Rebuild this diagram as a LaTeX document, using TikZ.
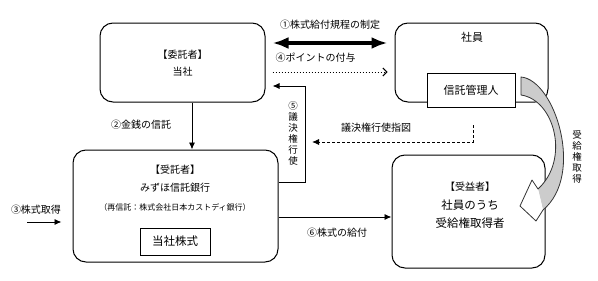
\documentclass[tikz,border=0pt]{standalone}
\usepackage{fontspec}
\setmainfont{Noto Sans CJK JP}
\usetikzlibrary{arrows.meta}

\begin{document}
\begin{tikzpicture}[x=1pt,y=-1pt,font=\fontsize{10}{12}\selectfont,
  box/.style={draw,rounded corners=13pt,line width=1pt},
  arr/.style={-{Latex[length=7pt,width=6pt]},line width=0.9pt},
  vtext/.style={align=center,font=\fontsize{9.5}{11}\selectfont}]
\useasboundingbox (0,0) rectangle (598,281);

\node[box,minimum width=165,minimum height=79] (itaku) at (182.5,62.5) {};
\node[box,minimum width=153,minimum height=79] (shain) at (471.5,62.5) {};
\node[draw,fill=white,line width=1pt,minimum width=88,minimum height=34,font=\fontsize{11}{13}\selectfont] (kanri) at (471,90) {信託管理人};
\node[box,minimum width=205,minimum height=112] (jutaku) at (175.5,206) {};
\node[draw,line width=0.9pt,minimum width=70,minimum height=27,font=\fontsize{11.5}{13}\selectfont] (kabu) at (175,241.5) {当社株式};
\node[box,minimum width=153,minimum height=113] (jueki) at (468.5,211.5) {};

\node[align=center,font=\fontsize{10}{17}\selectfont] (itakut) at (182.5,63) {【委託者】\\当社};
\node[font=\fontsize{11}{13}\selectfont] (shaint) at (472,37) {社員};
\node[align=center,font=\fontsize{10}{18}\selectfont] (jutakut) at (175,179) {【受託者】\\みずほ信託銀行};
\node[font=\fontsize{8}{10}\selectfont] (saishin) at (175,207) {（再信託：株式会社日本カストディ銀行）};
\node[font=\fontsize{10}{12}\selectfont] (juekit) at (470,187) {【受益者】};
\node[align=center,font=\fontsize{11.5}{18}\selectfont] (juekin) at (470,214) {社員のうち\\受給権取得者};

\coordinate (vote) at (305,86);
\coordinate (buy) at (27,222);
\coordinate (sashizu) at (473,125);
\coordinate (sashizuend) at (312,142);

\draw[line width=4pt,{Latex[length=16pt,width=12pt]}-{Latex[length=16pt,width=12pt]}] ([shift={(7,-19.5)}]itaku.east) -- ([shift={(-7,-19.5)}]shain.west);
\draw[dotted,line width=1pt,-{Straight Barb[length=4pt,width=8pt]}] ([shift={(7,9.5)}]itaku.east) -- ([shift={(-7,9.5)}]shain.west);
\draw[arr] ([shift={(0,-24)}]jutaku.east) -| (vote) -- ([shift={(7,23.5)}]itaku.east);
\draw[arr] ([xshift=9.5]itaku.south) -- ([xshift=9.5]itaku.south |- jutaku.north);
\draw[arr] (buy) -- ([shift={(-11,16)}]jutaku.west);
\draw[arr] ([shift={(0,11)}]jutaku.east) -- ([shift={(0,11)}]jutaku.east -| jueki.west);
\draw[arr,dash pattern=on 3pt off 2pt] (sashizu) |- (sashizuend);

\fill[gray!40] (521,77) .. controls (555,80) and (585,175) .. (543,210) -- (538,189) .. controls (570,160) and (555,100) .. (521,95) -- cycle;
\fill[white] (543,210) -- (536,221) -- (520,206) -- (532,180) -- (538,189) -- cycle;
\draw[black!80,line width=0.8pt,line join=round] (521,77) .. controls (555,80) and (585,175) .. (543,210) -- (536,221) -- (520,206) -- (532,180) -- (538,189) .. controls (570,160) and (555,100) .. (521,95) -- cycle;

\node (lab1) at (330,25) {①株式給付規程の制定};
\node[anchor=west] (lab4) at (272,58) {④ポイントの付与};
\node (lab2) at (141,125) {②金銭の信託};
\node (lab3) at (36,210) {③株式取得};
\node (lab6) at (337,233) {⑥株式の給付};
\node[vtext] (lab5) at (293,133) {⑤\\議\\決\\権\\行\\使};
\node (labsashizu) at (376,128) {議決権行使指図};
\node[vtext] (labjukyu) at (577,157) {受\\給\\権\\取\\得};
\end{tikzpicture}
\end{document}
